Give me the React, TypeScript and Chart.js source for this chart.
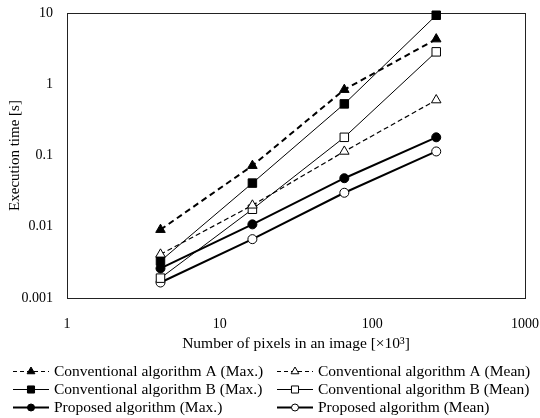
import { useEffect, useRef } from "react";
import { Chart, registerables } from "chart.js";
Chart.register(...registerables);

// x: number of pixels in an image [x10^3]
const pixelsK = [4.096, 16.384, 65.536, 262.144];
// execution times [s]
const convAMax = [0.0091, 0.072, 0.84, 4.3];
const convAMean = [0.0041, 0.02, 0.114, 0.6];
const convBMax = [0.0033, 0.041, 0.53, 9.3];
const convBMean = [0.0019, 0.0176, 0.18, 2.85];
const propMax = [0.0026, 0.0108, 0.048, 0.18];
const propMean = [0.00165, 0.0067, 0.03, 0.114];

const xTickValues = [1, 10, 100, 1000];
const yTickValues = [0.001, 0.01, 0.1, 1, 10];
const yTickLabels = ["0.001", "0.01", "0.1", "1", "10"];
const xTickLabels = ["1", "10", "100", "1000"];

const seriesNames = [
  "Conventional algorithm A (Max.)",
  "Conventional algorithm A (Mean)",
  "Conventional algorithm B (Max.)",
  "Conventional algorithm B (Mean)",
  "Proposed algorithm (Max.)",
  "Proposed algorithm (Mean)",
];
const xTitle = "Number of pixels in an image [\u00d710\u00b3]";
const yTitle = "Execution time [s]";

const FONT = "'Liberation Serif', 'Times New Roman', serif";

type Style = {
  values: number[];
  marker: "triangle" | "rect" | "circle";
  filled: boolean;
  width: number;
  dash: number[];
  legendWidth: number;
  legendDash: number[];
  radius: number;
  legendRadius: number;
};

const styles: Style[] = [
  { values: convAMax, marker: "triangle", filled: true, width: 2, dash: [6, 4], legendWidth: 1.2, legendDash: [4, 3], radius: 5.5, legendRadius: 4.5 },
  { values: convAMean, marker: "triangle", filled: false, width: 1.2, dash: [5, 3], legendWidth: 1, legendDash: [4, 3], radius: 5.5, legendRadius: 4.5 },
  { values: convBMax, marker: "rect", filled: true, width: 1, dash: [], legendWidth: 1, legendDash: [], radius: 6, legendRadius: 5 },
  { values: convBMean, marker: "rect", filled: false, width: 1, dash: [], legendWidth: 1, legendDash: [], radius: 6, legendRadius: 5 },
  { values: propMax, marker: "circle", filled: true, width: 2, dash: [], legendWidth: 2, legendDash: [], radius: 4.5, legendRadius: 3.5 },
  { values: propMean, marker: "circle", filled: false, width: 2, dash: [], legendWidth: 2, legendDash: [], radius: 4.5, legendRadius: 3.5 },
];

function drawMarker(ctx: CanvasRenderingContext2D, m: string, filled: boolean, x: number, y: number, r: number) {
  ctx.save();
  ctx.beginPath();
  if (m === "triangle") {
    ctx.moveTo(x, y - r);
    ctx.lineTo(x + r * 0.866, y + r * 0.5);
    ctx.lineTo(x - r * 0.866, y + r * 0.5);
    ctx.closePath();
  } else if (m === "rect") {
    const s = r * 0.707;
    ctx.rect(x - s, y - s, 2 * s, 2 * s);
  } else {
    ctx.arc(x, y, r, 0, Math.PI * 2);
  }
  ctx.fillStyle = filled ? "#000" : "#fff";
  ctx.fill();
  ctx.setLineDash([]);
  ctx.lineWidth = 1;
  ctx.strokeStyle = "#000";
  ctx.stroke();
  ctx.restore();
}

const framePlugin = {
  id: "frame",
  beforeDatasetsDraw(chart: any) {
    const { ctx, chartArea: a } = chart;
    ctx.save();
    ctx.strokeStyle = "#222";
    ctx.lineWidth = 1;
    ctx.strokeRect(Math.round(a.left) + 0.5, Math.round(a.top) + 0.5, Math.round(a.right - a.left), Math.round(a.bottom - a.top));
    ctx.restore();
  },
  afterDraw(chart: any) {
    const ctx: CanvasRenderingContext2D = chart.ctx;
    const rows = [371, 389, 407];
    const cols = [13, 277];
    const lineLen = 36;
    ctx.save();
    ctx.font = `15.5px ${FONT}`;
    ctx.textBaseline = "middle";
    ctx.textAlign = "left";
    styles.forEach((s, i) => {
      const x0 = cols[i % 2];
      const y = rows[Math.floor(i / 2)];
      ctx.beginPath();
      ctx.setLineDash(s.legendDash);
      ctx.lineWidth = s.legendWidth;
      ctx.strokeStyle = "#000";
      ctx.moveTo(x0, y + 0.5);
      ctx.lineTo(x0 + lineLen, y + 0.5);
      ctx.stroke();
      drawMarker(ctx, s.marker, s.filled, x0 + lineLen / 2, y + 0.5, s.legendRadius);
      ctx.fillStyle = "#000";
      ctx.fillText(seriesNames[i], x0 + lineLen + 5, y + 1);
    });
    ctx.restore();
  },
};

export default function App() {
  const ref = useRef<HTMLCanvasElement>(null);
  useEffect(() => {
    document.body.style.margin = "0";
    Chart.defaults.font.family = FONT;
    Chart.defaults.color = "#000";
    const chart = new Chart(ref.current!, {
      type: "line",
      data: {
        datasets: styles.map((s, i) => ({
          label: seriesNames[i],
          data: s.values.map((v, j) => ({ x: pixelsK[j], y: v })),
          borderColor: "#000",
          borderWidth: s.width,
          borderDash: s.dash,
          pointStyle: s.marker,
          pointRadius: s.radius,
          pointBackgroundColor: s.filled ? "#000" : "#fff",
          pointBorderColor: "#000",
          pointBorderWidth: 1,
          fill: false,
          tension: 0,
          clip: false as any,
        })),
      },
      options: {
        animation: false,
        responsive: false,
        layout: { padding: { top: 13, right: 15, left: 0, bottom: 0 } },
        plugins: { legend: { display: false }, tooltip: { enabled: false } },
        scales: {
          x: {
            type: "logarithmic",
            min: 1,
            max: 1000,
            grid: { display: false, drawTicks: false },
            border: { display: true, color: "#222" },
            afterBuildTicks: (scale: any) => {
              scale.ticks = xTickValues.map((v) => ({ value: v }));
            },
            afterFit: (scale: any) => {
              scale.height = 120;
              scale.paddingLeft = 0;
              scale.paddingRight = 0;
            },
            ticks: {
              autoSkip: false,
              maxRotation: 0,
              padding: 18,
              font: { size: 14 },
              callback: (v: any) => {
                const i = xTickValues.indexOf(Number(v));
                return i >= 0 ? xTickLabels[i] : "";
              },
            },
            title: { display: true, text: xTitle, font: { size: 15.5 }, padding: { top: 0, bottom: 65 } },
          },
          y: {
            type: "logarithmic",
            min: 0.001,
            max: 10,
            grid: { display: false, drawTicks: false },
            border: { display: true, color: "#222" },
            afterBuildTicks: (scale: any) => {
              scale.ticks = yTickValues.map((v) => ({ value: v }));
            },
            afterFit: (scale: any) => {
              scale.width = 67;
              scale.paddingTop = 0;
              scale.paddingBottom = 0;
            },
            ticks: {
              autoSkip: false,
              padding: 14,
              font: { size: 14 },
              callback: (v: any) => {
                const i = yTickValues.findIndex((t) => Math.abs(t - Number(v)) / t < 1e-6);
                return i >= 0 ? yTickLabels[i] : "";
              },
            },
            title: { display: true, text: yTitle, font: { size: 15 }, padding: { top: 6, bottom: 0 } },
          },
        },
      },
      plugins: [framePlugin],
    } as any);
    return () => chart.destroy();
  }, []);
  return (
    <div style={{ width: 540, height: 418, background: "#fff" }}>
      <canvas ref={ref} width={540} height={418} style={{ width: 540, height: 418, display: "block" }} />
    </div>
  );
}
